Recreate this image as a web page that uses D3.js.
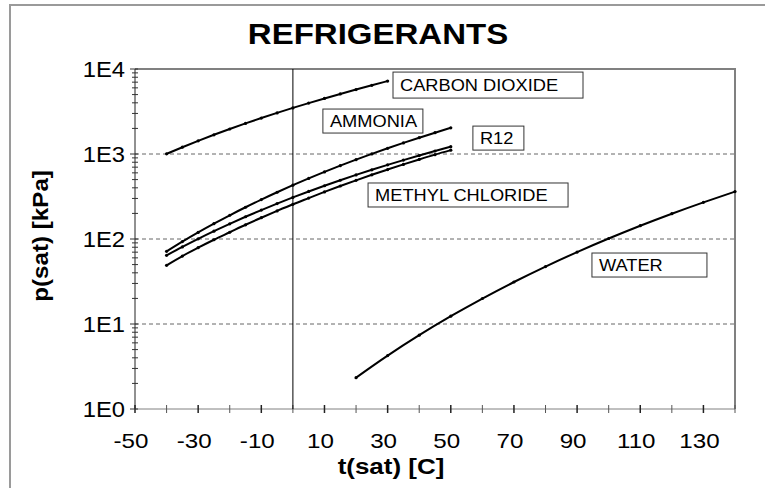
<!DOCTYPE html>
<meta charset="utf-8">
<style>
  body { margin: 0; background: #fff; overflow: hidden; }
  svg { display: block; }
  text { font-family: Arial, "Liberation Sans", sans-serif; }
</style>
<script src="https://d3js.org/d3.v7.min.js"></script>
<svg width="765" height="488"></svg>
<script>
const svg = d3.select('svg');

// saturation temperature steps (C)
const tRef = [-40, -35, -30, -25, -20, -15, -10, -5, 0, 5, 10, 15, 20, 25, 30, 35, 40, 45, 50];
const tCO2 = [-40, -35, -30, -25, -20, -15, -10, -5, 0, 5, 10, 15, 20, 25, 30];
const tWater = [20, 30, 40, 50, 60, 70, 80, 90, 100, 110, 120, 130, 140];

// saturation pressures (kPa)
const pCO2 = [1005, 1202, 1428, 1683, 1969, 2290, 2649, 3046, 3485, 3969, 4502, 5086, 5729, 6434, 7214];
const pAmmonia = [71.7, 93.2, 119.6, 151.6, 190.2, 236.3, 290.9, 354.9, 429.4, 515.7, 615.0, 728.6, 857.5, 1003, 1167, 1350, 1555, 1782, 2033];
const pR12 = [64.2, 80.7, 100.4, 123.7, 150.9, 182.6, 219.1, 261.0, 308.6, 362.6, 423.3, 491.4, 567.3, 651.6, 744.9, 847.7, 960.7, 1084, 1219];
const pMethyl = [49, 63, 79, 98, 120, 147, 178, 214, 256, 303, 358, 420, 490, 569, 656, 754, 863, 983, 1110];
const pWater = [2.339, 4.246, 7.384, 12.35, 19.94, 31.19, 47.39, 70.14, 101.3, 143.3, 198.5, 270.1, 361.3];

const xTicks = [-50, -30, -10, 10, 30, 50, 70, 90, 110, 130];
const yTicks = [1, 10, 100, 1000, 10000];
const yTickLabels = ['1E0', '1E1', '1E2', '1E3', '1E4'];

// label boxes, anchored at top-left in data units
const labels = [
  { text: 'CARBON DIOXIDE', t: 31.7, p: 9200, w: 190, h: 26 },
  { text: 'AMMONIA', t: 9.5, p: 3380, w: 100, h: 24 },
  { text: 'R12', t: 57, p: 2130, w: 51, h: 24 },
  { text: 'METHYL CHLORIDE', t: 23.8, p: 456, w: 200, h: 24 },
  { text: 'WATER', t: 94.7, p: 68.4, w: 115, h: 24 }
];

const series = [
  { t: tCO2, p: pCO2 },
  { t: tRef, p: pAmmonia },
  { t: tRef, p: pR12 },
  { t: tRef, p: pMethyl },
  { t: tWater, p: pWater }
];

const pl = 135, pr = 735, pt = 69, pb = 409;

const x = d3.scaleLinear().domain([-50, 140]).range([pl, pr]);
const y = d3.scaleLog().domain([1, 10000]).range([pb, pt]);

// the original picture is a bit wider than tall, so stretch text sideways
function stretch(sel, k) {
  sel.each(function () {
    const len = this.getComputedTextLength();
    d3.select(this).attr('textLength', len * k).attr('lengthAdjust', 'spacingAndGlyphs');
  });
}

// outer frame (only top and left edges are in view)
svg.append('path')
  .attr('d', 'M10,488V5H765')
  .attr('fill', 'none').attr('stroke', '#9a9a9a').attr('stroke-width', 2);

// title
svg.append('text')
  .attr('x', 378).attr('y', 44)
  .attr('text-anchor', 'middle')
  .attr('font-size', 30).attr('font-weight', 'bold')
  .text('REFRIGERANTS')
  .call(stretch, 1.1);

// gridlines
svg.append('g').selectAll('line')
  .data([10, 100, 1000])
  .enter().append('line')
  .attr('x1', pl).attr('x2', pr)
  .attr('y1', d => y(d)).attr('y2', d => y(d))
  .attr('stroke', '#666').attr('stroke-dasharray', '4,3');

// top and right frame of plot
svg.append('path')
  .attr('d', `M${pl},${pt}H${pr}V${pb}`)
  .attr('fill', 'none').attr('stroke', '#808080').attr('stroke-width', 2);

// x axis
const xAxis = svg.append('g').attr('transform', `translate(0,${pb})`);
xAxis.append('line').attr('x1', pl).attr('x2', pr).attr('stroke', '#808080');
xAxis.selectAll('line.tick')
  .data(d3.range(-50, 141, 10))
  .enter().append('line')
  .attr('class', 'tick')
  .attr('x1', d => x(d)).attr('x2', d => x(d))
  .attr('y1', -4).attr('y2', 4)
  .attr('stroke', d => xTicks.includes(d) ? '#222' : '#555')
  .attr('stroke-width', d => xTicks.includes(d) ? 1.5 : 1);
xAxis.selectAll('text')
  .data(xTicks)
  .enter().append('text')
  .attr('x', d => x(d) - 4).attr('y', 39)
  .attr('text-anchor', 'middle')
  .attr('font-size', 21)
  .text(d => d)
  .call(stretch, 1.15);

// y axis
const yAxis = svg.append('g').attr('transform', `translate(${pl},0)`);
yAxis.append('line').attr('y1', pt).attr('y2', pb).attr('stroke', '#222');
const minor = [];
for (let k = 0; k < 4; k++) for (let m = 2; m < 10; m++) minor.push(m * Math.pow(10, k));
yAxis.selectAll('line.minor')
  .data(minor)
  .enter().append('line')
  .attr('class', 'minor')
  .attr('x1', -3).attr('x2', 3)
  .attr('y1', d => y(d)).attr('y2', d => y(d))
  .attr('stroke', '#333');
yAxis.selectAll('line.major')
  .data(yTicks)
  .enter().append('line')
  .attr('class', 'major')
  .attr('x1', -5).attr('x2', 3)
  .attr('y1', d => y(d)).attr('y2', d => y(d))
  .attr('stroke', '#333');
yAxis.selectAll('text')
  .data(yTicks)
  .enter().append('text')
  .attr('x', -10).attr('y', d => y(d) + 8)
  .attr('text-anchor', 'end')
  .attr('font-size', 22)
  .text((d, i) => yTickLabels[i])
  .call(stretch, 1.08);

// vertical line at 0 C
svg.append('line')
  .attr('x1', x(0)).attr('x2', x(0))
  .attr('y1', pt).attr('y2', pb)
  .attr('stroke', '#000');

// axis titles
svg.append('text')
  .attr('x', 391).attr('y', 474)
  .attr('text-anchor', 'middle')
  .attr('font-size', 22).attr('font-weight', 'bold')
  .text('t(sat) [C]')
  .call(stretch, 1.18);
svg.append('text')
  .attr('transform', 'translate(48,236) rotate(-90)')
  .attr('text-anchor', 'middle')
  .attr('font-size', 22).attr('font-weight', 'bold')
  .text('p(sat) [kPa]')
  .call(stretch, 1.1);

// curves
const line = d3.line()
  .x(d => x(d[0]))
  .y(d => y(d[1]))
  .curve(d3.curveMonotoneX);

series.forEach(s => {
  const pts = s.t.map((t, i) => [t, s.p[i]]);
  svg.append('path')
    .attr('d', line(pts))
    .attr('fill', 'none')
    .attr('stroke', '#000')
    .attr('stroke-width', 2);
  svg.append('g').selectAll('circle')
    .data(pts)
    .enter().append('circle')
    .attr('cx', d => x(d[0])).attr('cy', d => y(d[1]))
    .attr('r', 1.6)
    .attr('fill', '#000');
});

// label boxes
const lab = svg.append('g').selectAll('g')
  .data(labels)
  .enter().append('g')
  .attr('transform', d => `translate(${x(d.t)},${y(d.p)})`);
lab.append('rect')
  .attr('width', d => d.w).attr('height', d => d.h)
  .attr('fill', '#fff').attr('stroke', '#333').attr('stroke-width', 1);
lab.append('text')
  .attr('x', 7).attr('y', d => d.h / 2 + 6)
  .attr('font-size', 16)
  .text(d => d.text)
  .call(stretch, 1.14);
</script>
